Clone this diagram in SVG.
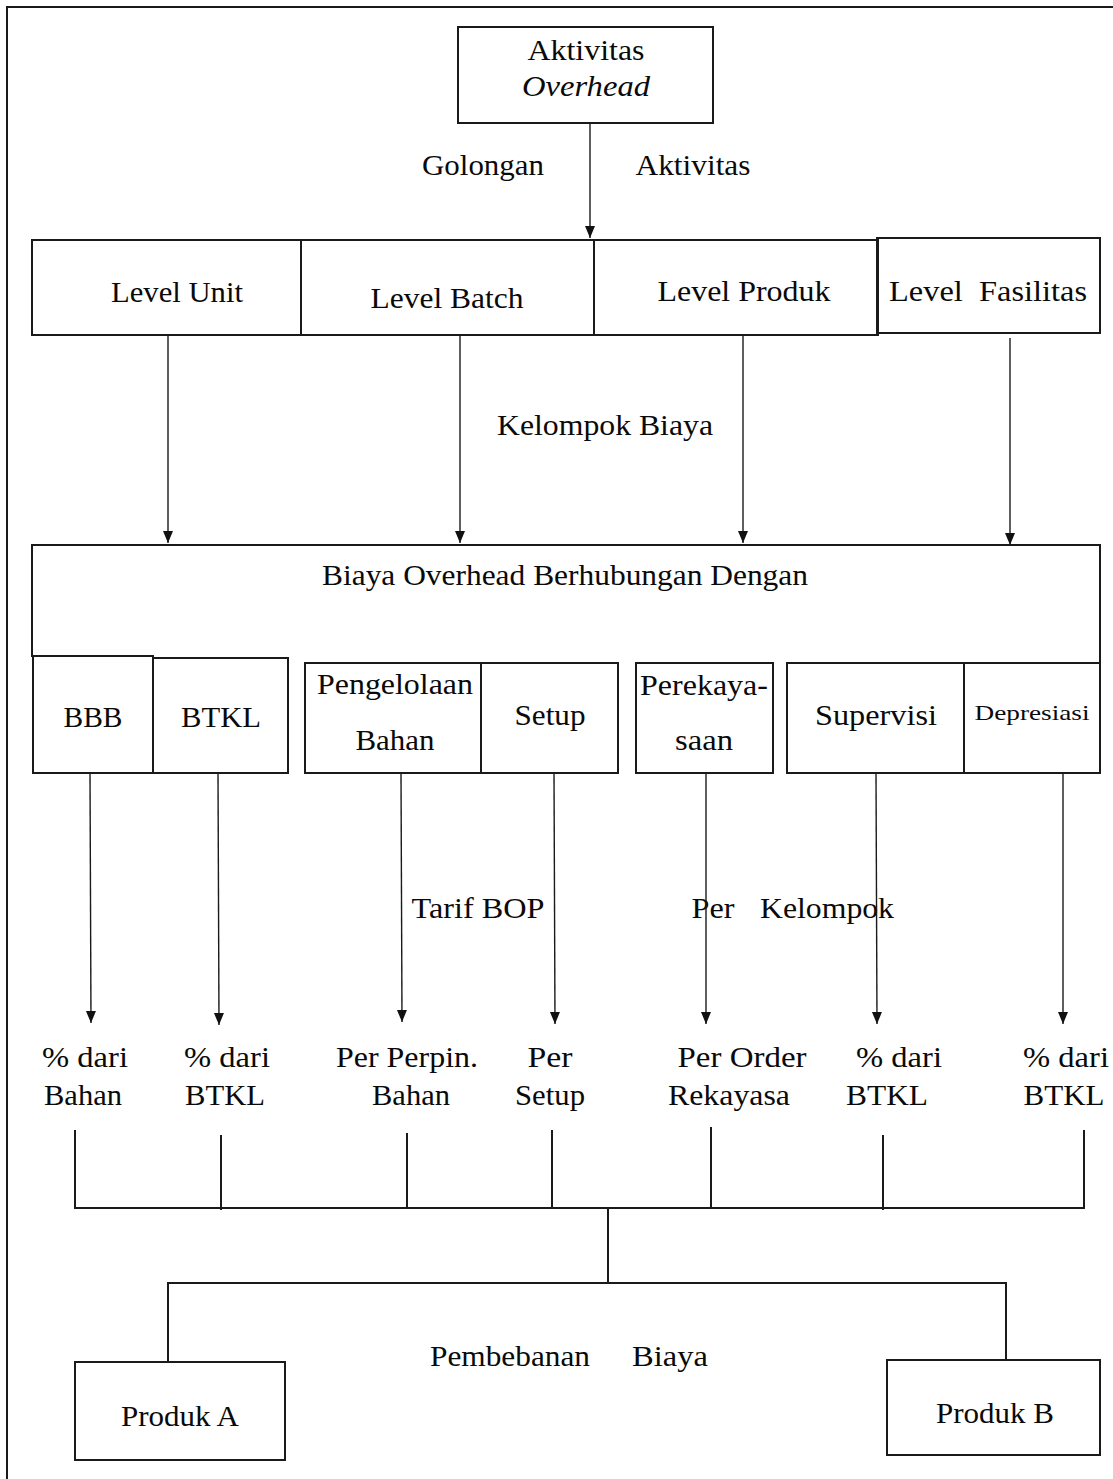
<svg xmlns="http://www.w3.org/2000/svg" width="1113" height="1479" viewBox="0 0 1113 1479">
<style>
.bx{fill:none;stroke:#1a1a1a;stroke-width:2}
.ln{fill:none;stroke:#1a1a1a;stroke-width:1.4}
.br{fill:none;stroke:#1a1a1a;stroke-width:2}
.t{font-family:"Liberation Serif","Times New Roman",serif;font-size:29px;fill:#0a0a0a;text-anchor:middle}
.s{font-size:22px}
</style>
<defs>
<marker id="ah" markerUnits="userSpaceOnUse" markerWidth="13" markerHeight="11" refX="12" refY="5" orient="auto">
<path d="M0,0 L12,5 L0,10 Z" fill="#111"/>
</marker>
</defs>
<rect width="1113" height="1479" fill="#fff"/>
<rect x="7" y="7" width="1120" height="1500" class="bx" stroke-width="1.6"/>

<g id="aktivitas-overhead">
<rect x="458" y="27" width="255" height="96" class="bx"/>
<text x="586" y="60" class="t" textLength="117" lengthAdjust="spacingAndGlyphs">Aktivitas</text>
<text x="586" y="96" class="t" font-style="italic" textLength="128" lengthAdjust="spacingAndGlyphs">Overhead</text>
</g>

<g id="level-unit">
<rect x="32" y="240" width="269" height="95" class="bx"/>
<text x="177" y="302" class="t" textLength="132" lengthAdjust="spacingAndGlyphs">Level Unit</text>
</g>
<g id="level-batch">
<rect x="301" y="240" width="293" height="95" class="bx"/>
<text x="447" y="308" class="t" textLength="153" lengthAdjust="spacingAndGlyphs">Level Batch</text>
</g>
<g id="level-produk">
<rect x="594" y="240" width="284" height="95" class="bx"/>
<text x="744" y="301" class="t" textLength="173" lengthAdjust="spacingAndGlyphs">Level Produk</text>
</g>
<g id="level-fasilitas">
<rect x="877" y="238" width="223" height="95" class="bx"/>
<text x="988" y="301" class="t" textLength="198" lengthAdjust="spacingAndGlyphs">Level&#160; Fasilitas</text>
</g>

<g id="biaya-overhead">
<path d="M32,657 V545 H1100 V663" class="bx"/>
<text x="565" y="585" class="t" textLength="486" lengthAdjust="spacingAndGlyphs">Biaya Overhead Berhubungan Dengan</text>
</g>
<g id="bbb">
<rect x="33" y="656" width="120" height="117" class="bx"/>
<text x="93" y="727" class="t" textLength="59" lengthAdjust="spacingAndGlyphs">BBB</text>
</g>
<g id="btkl">
<rect x="153" y="658" width="135" height="115" class="bx"/>
<text x="221" y="727" class="t" textLength="80" lengthAdjust="spacingAndGlyphs">BTKL</text>
</g>
<g id="pengelolaan-bahan">
<rect x="305" y="663" width="176" height="110" class="bx"/>
<text x="395" y="694" class="t" textLength="156" lengthAdjust="spacingAndGlyphs">Pengelolaan</text>
<text x="395" y="750" class="t" textLength="79" lengthAdjust="spacingAndGlyphs">Bahan</text>
</g>
<g id="setup">
<rect x="481" y="663" width="137" height="110" class="bx"/>
<text x="550" y="725" class="t" textLength="71" lengthAdjust="spacingAndGlyphs">Setup</text>
</g>
<g id="perekayasaan">
<rect x="636" y="663" width="137" height="110" class="bx"/>
<text x="704" y="695" class="t" textLength="128" lengthAdjust="spacingAndGlyphs">Perekaya-</text>
<text x="704" y="750" class="t" textLength="58" lengthAdjust="spacingAndGlyphs">saan</text>
</g>
<g id="supervisi">
<rect x="787" y="663" width="177" height="110" class="bx"/>
<text x="876" y="725" class="t" textLength="122" lengthAdjust="spacingAndGlyphs">Supervisi</text>
</g>
<g id="depresiasi">
<rect x="964" y="663" width="136" height="110" class="bx"/>
<text x="1032" y="720" class="t s" textLength="115" lengthAdjust="spacingAndGlyphs">Depresiasi</text>
</g>

<g id="produk-a">
<rect x="75" y="1362" width="210" height="98" class="bx"/>
<text x="180" y="1426" class="t" textLength="118" lengthAdjust="spacingAndGlyphs">Produk A</text>
</g>
<g id="produk-b">
<rect x="887" y="1360" width="213" height="95" class="bx"/>
<text x="995" y="1423" class="t" textLength="118" lengthAdjust="spacingAndGlyphs">Produk B</text>
</g>

<g id="labels">
<text x="483" y="175" class="t" textLength="122" lengthAdjust="spacingAndGlyphs">Golongan</text>
<text x="693" y="175" class="t" textLength="115" lengthAdjust="spacingAndGlyphs">Aktivitas</text>
<text x="605" y="435" class="t" textLength="216" lengthAdjust="spacingAndGlyphs">Kelompok Biaya</text>
<text x="478" y="918" class="t" textLength="133" lengthAdjust="spacingAndGlyphs">Tarif BOP</text>
<text x="713" y="918" class="t" textLength="43" lengthAdjust="spacingAndGlyphs">Per</text>
<text x="827" y="918" class="t" textLength="134" lengthAdjust="spacingAndGlyphs">Kelompok</text>
<text x="85" y="1067" class="t" textLength="86" lengthAdjust="spacingAndGlyphs">% dari</text>
<text x="83" y="1105" class="t" textLength="78" lengthAdjust="spacingAndGlyphs">Bahan</text>
<text x="227" y="1067" class="t" textLength="86" lengthAdjust="spacingAndGlyphs">% dari</text>
<text x="225" y="1105" class="t" textLength="80" lengthAdjust="spacingAndGlyphs">BTKL</text>
<text x="407" y="1067" class="t" textLength="142" lengthAdjust="spacingAndGlyphs">Per Perpin.</text>
<text x="411" y="1105" class="t" textLength="78" lengthAdjust="spacingAndGlyphs">Bahan</text>
<text x="550" y="1067" class="t" textLength="45" lengthAdjust="spacingAndGlyphs">Per</text>
<text x="550" y="1105" class="t" textLength="70" lengthAdjust="spacingAndGlyphs">Setup</text>
<text x="742" y="1067" class="t" textLength="129" lengthAdjust="spacingAndGlyphs">Per Order</text>
<text x="729" y="1105" class="t" textLength="122" lengthAdjust="spacingAndGlyphs">Rekayasa</text>
<text x="899" y="1067" class="t" textLength="86" lengthAdjust="spacingAndGlyphs">% dari</text>
<text x="887" y="1105" class="t" textLength="82" lengthAdjust="spacingAndGlyphs">BTKL</text>
<text x="1066" y="1067" class="t" textLength="86" lengthAdjust="spacingAndGlyphs">% dari</text>
<text x="1064" y="1105" class="t" textLength="81" lengthAdjust="spacingAndGlyphs">BTKL</text>
<text x="510" y="1366" class="t" textLength="160" lengthAdjust="spacingAndGlyphs">Pembebanan</text>
<text x="670" y="1366" class="t" textLength="76" lengthAdjust="spacingAndGlyphs">Biaya</text>
</g>

<g id="connectors">
<line x1="590" y1="123" x2="590" y2="238" class="ln" marker-end="url(#ah)"/>
<line x1="168" y1="335" x2="168" y2="543" class="ln" marker-end="url(#ah)"/>
<line x1="460" y1="335" x2="460" y2="543" class="ln" marker-end="url(#ah)"/>
<line x1="743" y1="335" x2="743" y2="543" class="ln" marker-end="url(#ah)"/>
<line x1="1010" y1="338" x2="1010" y2="545" class="ln" marker-end="url(#ah)"/>
<line x1="90" y1="773" x2="91" y2="1023" class="ln" marker-end="url(#ah)"/>
<line x1="218" y1="773" x2="219" y2="1025" class="ln" marker-end="url(#ah)"/>
<line x1="401" y1="773" x2="402" y2="1022" class="ln" marker-end="url(#ah)"/>
<line x1="554" y1="773" x2="555" y2="1024" class="ln" marker-end="url(#ah)"/>
<line x1="706" y1="773" x2="706" y2="1024" class="ln" marker-end="url(#ah)"/>
<line x1="876" y1="773" x2="877" y2="1024" class="ln" marker-end="url(#ah)"/>
<line x1="1063" y1="773" x2="1063" y2="1024" class="ln" marker-end="url(#ah)"/>
<path d="M75,1130 V1208 H1084 V1130 M221,1135 V1210 M407,1133 V1208 M552,1130 V1208 M711,1127 V1208 M883,1135 V1210 M608,1208 V1283 M168,1362 V1283 H1006 V1360" class="br"/>
</g>
</svg>
